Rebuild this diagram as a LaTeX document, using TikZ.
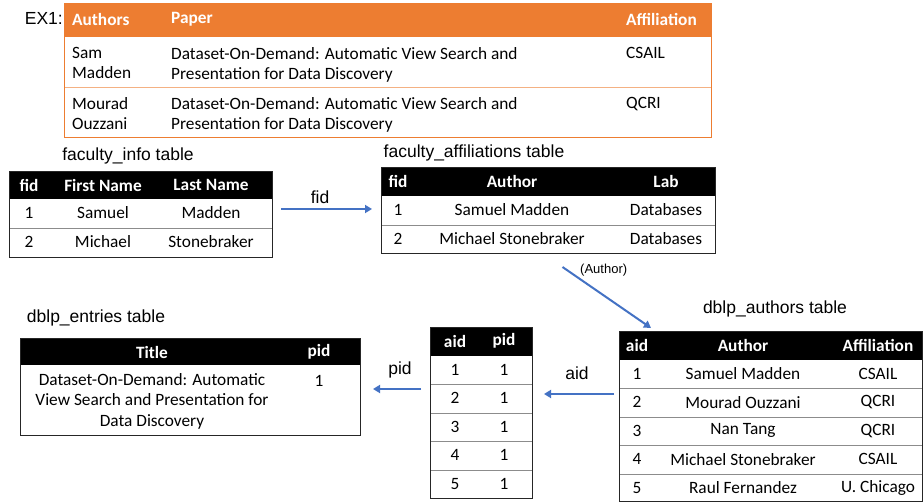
\documentclass[tikz,border=0pt]{standalone}
\usepackage{fontspec}
\usetikzlibrary{arrows.meta,calc}
\newfontfamily\carl{Carlito}
\newfontfamily\arl{Liberation Sans}
\definecolor{orng}{HTML}{ED7D31}
\definecolor{orngl}{HTML}{F4B183}
\definecolor{arrblue}{HTML}{4472C4}
\begin{document}
\begin{tikzpicture}[x=1pt,y=-1pt,
 tbl/.style={draw=black!85, line width=1pt, inner sep=0pt, anchor=north west},
 sep/.style={draw=black!45, line width=0.8pt},
 hc/.style={font=\carl\fontsize{17.3}{20.5}\selectfont\bfseries, text=white, inner sep=0pt},
 cc/.style={font=\carl\fontsize{17.3}{20.5}\selectfont, inner sep=0pt},
 lbl/.style={font=\arl\fontsize{17.5}{20}\selectfont, inner sep=0pt},
 arr/.style={draw=arrblue, line width=2pt, -{Triangle[length=7pt,width=8pt]}},
]
\useasboundingbox[fill=white] (0,0) rectangle (923,502);

% ---------- EX1 table ----------
\fill[orng] (64,3) rectangle (711,37);
\draw[orngl, line width=1pt] (64,88) -- (711,88);
\node[draw=orng, line width=1pt, inner sep=0pt, anchor=north west, minimum width=647pt, minimum height=134pt] (ex) at (64,3) {};
\node[lbl, anchor=east] (exl) at (63,18) {EX1:};
\node[hc, anchor=west] (exh1) at (72,19) {Authors};
\node[hc, anchor=west] (exh2) at (171,19) {Paper};
\node[hc, anchor=west] (exh3) at (626,19) {Affiliation};
\node[cc, anchor=north west, align=left] (ex11) at (72,47) {Sam\\Madden};
\node[cc, anchor=north west, align=left] (ex12) at (171,47) {Dataset-On-Demand: Automatic View Search and\\Presentation for Data Discovery};
\node[cc, anchor=north west, align=left] (ex13) at (626,47) {CSAIL};
\node[cc, anchor=north west, align=left] (ex21) at (72,97) {Mourad\\Ouzzani};
\node[cc, anchor=north west, align=left] (ex22) at (171,97) {Dataset-On-Demand: Automatic View Search and\\Presentation for Data Discovery};
\node[cc, anchor=north west, align=left] (ex23) at (626,97) {QCRI};

% ---------- faculty_info ----------
\node[lbl] (fil) at (128,156) {faculty\_info table};
\fill[black] (9,171) rectangle (272,199);
\draw[sep] (9,228) -- (272,228);
\node[tbl, minimum width=263pt, minimum height=86pt] (fi) at (9,171) {};
\node[hc] (fih1) at (29,185) {fid};
\node[hc] (fih2) at (103,185) {First Name};
\node[hc] (fih3) at (211,185) {Last Name};
\node[cc] (fi11) at (29,213) {1};
\node[cc] (fi12) at (103,213) {Samuel};
\node[cc] (fi13) at (211,213) {Madden};
\node[cc] (fi21) at (29,242) {2};
\node[cc] (fi22) at (103,242) {Michael};
\node[cc] (fi23) at (211,242) {Stonebraker};

% ---------- faculty_affiliations ----------
\node[lbl] (fal) at (474,153) {faculty\_affiliations table};
\fill[black] (381,167) rectangle (715,196);
\draw[sep] (381,225) -- (715,225);
\node[tbl, minimum width=334pt, minimum height=86pt] (fa) at (381,167) {};
\node[hc] (fah1) at (398,181) {fid};
\node[hc] (fah2) at (512,181) {Author};
\node[hc] (fah3) at (666,181) {Lab};
\node[cc] (fa11) at (398,210) {1};
\node[cc] (fa12) at (512,210) {Samuel Madden};
\node[cc] (fa13) at (666,210) {Databases};
\node[cc] (fa21) at (398,239) {2};
\node[cc] (fa22) at (512,239) {Michael Stonebraker};
\node[cc] (fa23) at (666,239) {Databases};

% ---------- dblp_authors ----------
\node[lbl] (dal) at (775,309) {dblp\_authors table};
\fill[black] (619,331) rectangle (922,360);
\foreach \y in {388,417,445,474} \draw[sep] (619,\y) -- (922,\y);
\node[tbl, minimum width=303pt, minimum height=170pt] (da) at (619,331) {};
\node[hc] (dah1) at (637,345) {aid};
\node[hc] (dah2) at (743,345) {Author};
\node[hc] (dah3) at (878,345) {Affiliation};
\foreach \n/\a/\f [count=\i] in {1/Samuel Madden/CSAIL, 2/Mourad Ouzzani/QCRI, 3/Nan Tang/QCRI, 4/Michael Stonebraker/CSAIL, 5/Raul Fernandez/U. Chicago}{
  \node[cc] (da\i a) at (637,{345+28.6*\i}) {\n};
  \node[cc] (da\i b) at (743,{345+28.6*\i}) {\a};
  \node[cc] (da\i c) at (878,{345+28.6*\i}) {\f};
}

% ---------- aid / pid ----------
\fill[black] (430,327) rectangle (532,356);
\foreach \y in {384,413,441,470} \draw[sep] (430,\y) -- (532,\y);
\node[tbl, minimum width=102pt, minimum height=171pt] (ap) at (430,327) {};
\node[hc] (aph1) at (455,341) {aid};
\node[hc] (aph2) at (504,341) {pid};
\foreach \i in {1,...,5}{
  \node[cc] (ap\i a) at (455,{341+28.6*\i}) {\i};
  \node[cc] (ap\i b) at (504,{341+28.6*\i}) {1};
}

% ---------- dblp_entries ----------
\node[lbl] (del) at (96,318) {dblp\_entries table};
\fill[black] (20,338) rectangle (360,365);
\node[tbl, minimum width=340pt, minimum height=97pt] (de) at (20,338) {};
\node[hc] (deh1) at (152,352) {Title};
\node[hc] (deh2) at (319,352) {pid};
\node[cc, anchor=north, align=center] (de11) at (152,373) {Dataset-On-Demand: Automatic\\View Search and Presentation for\\Data Discovery};
\node[cc] (de12) at (319,381) {1};

% ---------- connectors ----------
\draw[arr] ($(fi.north east)+(8,38)$) -- ($(fa.north west)+(-9,42)$);
\node[lbl] (fidl) at (320,197) {fid};
\draw[arr] ($(fa.south)+(14,13)$) -- ($(da.north west)+(32,-3)$);
\node[lbl, font=\arl\fontsize{13}{15}\selectfont, anchor=west] (authl) at (580,270) {(Author)};
\draw[arr] ($(da.north west)+(-5,63)$) -- ($(ap.north east)+(11,67)$);
\node[lbl] (aidl) at (577,373) {aid};
\draw[arr] ($(ap.north west)+(-9,62)$) -- ($(de.north east)+(12,51)$);
\node[lbl] (pidl) at (400,370) {pid};
\end{tikzpicture}
\end{document}
